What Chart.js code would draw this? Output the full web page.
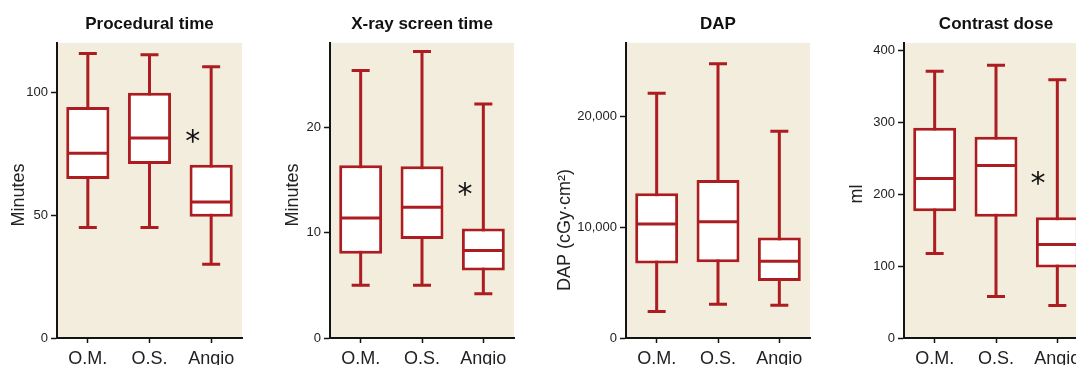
<!DOCTYPE html>
<html>
<head>
<meta charset="utf-8">
<script src="https://cdn.jsdelivr.net/npm/chart.js@4.4.1/dist/chart.umd.min.js"></script>
<style>
  @font-face {
    font-family: 'NarrowX';
    src: local('Liberation Sans Narrow'), local('LiberationSansNarrow-Regular'),
         local('DejaVu Sans Condensed'), local('DejaVuSansCondensed'),
         local('Arial Narrow'), local('ArialNarrow');
    font-weight: normal;
  }
  @font-face {
    font-family: 'NarrowX';
    src: local('Liberation Sans Narrow Bold'), local('LiberationSansNarrow-Bold'),
         local('DejaVu Sans Condensed Bold'), local('DejaVuSansCondensed-Bold'),
         local('Arial Narrow Bold'), local('ArialNarrow-Bold');
    font-weight: bold;
  }
  html, body { margin: 0; padding: 0; background: #ffffff; overflow: hidden; width: 1076px; height: 365px; }
  .panel { position: absolute; top: 0; height: 365px; }
</style>
</head>
<body>
<div class="panel" id="p0"><canvas id="c0"></canvas></div>
<div class="panel" id="p1"><canvas id="c1"></canvas></div>
<div class="panel" id="p2"><canvas id="c2"></canvas></div>
<div class="panel" id="p3"><canvas id="c3"></canvas></div>
<script>
// ---------------- DATA ----------------
const categories = ['O.M.', 'O.S.', 'Angio'];
const panelTitles = ['Procedural time', 'X-ray screen time', 'DAP', 'Contrast dose'];
const yAxisTitles = ['Minutes', 'Minutes', 'DAP (cGy\u00B7cm\u00B2)', 'ml'];

// Procedural time (minutes)
const procMin    = [45, 45, 30];
const procQ1     = [64.7, 70.8, 49.3];
const procMedian = [75.2, 81.4, 55.3];
const procQ3     = [94, 99.8, 70.5];
const procMax    = [115.7, 115.2, 110.3];

// X-ray screen time (minutes)
const xrayMin    = [5.0, 5.0, 4.2];
const xrayQ1     = [8.0, 9.4, 6.4];
const xrayMedian = [11.4, 12.4, 8.3];
const xrayQ3     = [16.4, 16.3, 10.4];
const xrayMax    = [25.4, 27.2, 22.2];

// DAP (cGy·cm²)
const dapMin     = [2390, 3050, 2960];
const dapQ1      = [6720, 6840, 5150];
const dapMedian  = [10270, 10480, 6930];
const dapQ3      = [13050, 14250, 9070];
const dapMax     = [22080, 24730, 18650];

// Contrast dose (ml)
const contMin    = [117.7, 57.7, 45.2];
const contQ1     = [176.7, 168.8, 98.2];
const contMedian = [222.3, 240.4, 130.3];
const contQ3     = [293, 280.3, 168.3];
const contMax    = [371.6, 379.9, 359.8];

// Axis ranges and tick labels
const yMaxValues = [120, 28, 26600, 411];
const yTicks0 = [0, 50, 100];
const yTicks1 = [0, 10, 20];
const yTicks2 = [0, 10000, 20000];
const yTicks3 = [0, 100, 200, 300, 400];

// Significance markers (between O.S. and Angio); null = none
const sigPos   = [1.7, 1.7, null, 1.685];
const sigValue = [82.8, 14.3, null, 226];

// ---------------- STYLE / LAYOUT ----------------
const RED = '#AC1C20';
const BG = '#F2EDDC';
const AXIS = '#141414';
const TXT = '#222222';
const SANS = "'Liberation Sans', Arial, sans-serif";
let NARROW = "NarrowX, 'Liberation Sans', sans-serif";
let tickSize = 15, titleSize = 19;

const layouts = [
  { left: 0,   width: 262, axisX: 57,  plotRight: 242,  yTitleX: 19,    yTitleY: 195 },
  { left: 270, width: 264, axisX: 330, plotRight: 514,  yTitleX: 293,   yTitleY: 195 },
  { left: 540, width: 290, axisX: 626, plotRight: 810,  yTitleX: 564.7, yTitleY: 230 },
  { left: 830, width: 278, axisX: 904, plotRight: 1088, yTitleX: 857,   yTitleY: 194 }
];

const panels = [
  { min: procMin, q1: procQ1, med: procMedian, q3: procQ3, max: procMax, ticks: yTicks0 },
  { min: xrayMin, q1: xrayQ1, med: xrayMedian, q3: xrayQ3, max: xrayMax, ticks: yTicks1 },
  { min: dapMin,  q1: dapQ1,  med: dapMedian,  q3: dapQ3,  max: dapMax,  ticks: yTicks2 },
  { min: contMin, q1: contQ1, med: contMedian, q3: contQ3, max: contMax, ticks: yTicks3 }
];

const CANVAS_H = 365;
const PLOT_TOP = 43;
const PLOT_BOTTOM = 338;

const bgPlugin = {
  id: 'plotBg',
  beforeDraw(chart) {
    const a = chart.chartArea, ctx = chart.ctx;
    ctx.save();
    ctx.fillStyle = BG;
    ctx.fillRect(a.left, a.top, a.right - a.left, a.bottom - a.top);
    ctx.restore();
  }
};

const boxPlugin = {
  id: 'boxParts',
  beforeDatasetsDraw(chart, args, opts) {
    const p = opts.panel;
    const xs = chart.scales.x, ys = chart.scales.y, ctx = chart.ctx;
    ctx.save();
    ctx.strokeStyle = RED;
    ctx.lineWidth = 3;
    ctx.lineCap = 'butt';
    for (let i = 0; i < categories.length; i++) {
      const x = xs.getPixelForValue(i);
      const yLo = ys.getPixelForValue(p.min[i]);
      const yHi = ys.getPixelForValue(p.max[i]);
      ctx.beginPath();
      ctx.moveTo(x, yLo); ctx.lineTo(x, yHi);
      ctx.moveTo(x - 9, yLo); ctx.lineTo(x + 9, yLo);
      ctx.moveTo(x - 9, yHi); ctx.lineTo(x + 9, yHi);
      ctx.stroke();
    }
    ctx.restore();
  },
  afterDatasetsDraw(chart, args, opts) {
    const p = opts.panel;
    const xs = chart.scales.x, ys = chart.scales.y, ctx = chart.ctx;
    const meta = chart.getDatasetMeta(0);
    ctx.save();
    ctx.strokeStyle = RED;
    ctx.lineWidth = 3;
    for (let i = 0; i < categories.length; i++) {
      const bar = meta.data[i];
      const x = bar.x, w = bar.width;
      const y = ys.getPixelForValue(p.med[i]);
      ctx.beginPath();
      ctx.moveTo(x - w / 2 + 1, y); ctx.lineTo(x + w / 2 - 1, y);
      ctx.stroke();
    }
    if (opts.sigPos !== null) {
      const i0 = Math.floor(opts.sigPos);
      const x1 = xs.getPixelForValue(i0);
      const x2 = xs.getPixelForValue(i0 + 1);
      const x = x1 + (opts.sigPos - i0) * (x2 - x1);
      const y = ys.getPixelForValue(opts.sigValue);
      ctx.fillStyle = '#111';
      ctx.font = "30px 'DejaVu Sans', sans-serif";
      ctx.textAlign = 'center';
      ctx.textBaseline = 'alphabetic';
      ctx.fillText('*', x, y + 0.56 * 30);
    }
    ctx.save();
    ctx.translate(opts.yTitleX, opts.yTitleY);
    ctx.rotate(-Math.PI / 2);
    ctx.fillStyle = TXT;
    ctx.font = '18px ' + SANS;
    ctx.textAlign = 'center';
    ctx.textBaseline = 'middle';
    ctx.fillText(opts.yTitle, 0, 0);
    ctx.restore();
    ctx.restore();
  }
};

function makeChart(k) {
  const L = layouts[k];
  const P = panels[k];
  const div = document.getElementById('p' + k);
  div.style.left = L.left + 'px';
  div.style.width = L.width + 'px';
  const canvas = document.getElementById('c' + k);
  canvas.width = L.width;
  canvas.height = CANVAS_H;
  canvas.style.width = L.width + 'px';
  canvas.style.height = CANVAS_H + 'px';

  const boxes = categories.map((c, i) => [P.q1[i], P.q3[i]]);
  const tLH = titleSize * 1.2;

  return new Chart(canvas, {
    type: 'bar',
    data: {
      labels: categories,
      datasets: [{
        data: boxes,
        backgroundColor: '#ffffff',
        borderColor: RED,
        borderWidth: 3,
        borderSkipped: false,
        categoryPercentage: 1.0,
        barPercentage: 0.70
      }]
    },
    plugins: [bgPlugin, boxPlugin],
    options: {
      responsive: false,
      animation: false,
      devicePixelRatio: 1,
      layout: { padding: { left: 0, top: 0, bottom: 0, right: L.width - (L.plotRight - L.left) } },
      plugins: {
        legend: { display: false },
        tooltip: { enabled: false },
        title: {
          display: true,
          text: panelTitles[k],
          fullSize: false,
          color: '#111',
          font: { family: NARROW, size: titleSize, weight: 'bold', lineHeight: 1.2 },
          padding: { top: 24 - tLH / 2, bottom: PLOT_TOP - (24 - tLH / 2) - tLH }
        },
        boxParts: {
          panel: P,
          sigPos: sigPos[k],
          sigValue: sigValue[k],
          yTitle: yAxisTitles[k],
          yTitleX: L.yTitleX - L.left,
          yTitleY: L.yTitleY
        }
      },
      scales: {
        x: {
          type: 'category',
          offset: true,
          grid: { display: true, drawOnChartArea: false, offset: false, tickLength: 5, color: AXIS, tickWidth: 1.5 },
          border: { display: true, color: AXIS, width: 2 },
          ticks: { color: TXT, font: { family: SANS, size: 18 }, padding: 5, maxRotation: 0 },
          afterFit(scale) { scale.height = CANVAS_H - PLOT_BOTTOM; }
        },
        y: {
          type: 'linear',
          min: 0,
          max: yMaxValues[k],
          grid: { display: true, drawOnChartArea: false, tickLength: 6, color: AXIS, tickWidth: 1.5 },
          border: { display: true, color: AXIS, width: 2 },
          ticks: { color: TXT, font: { family: NARROW, size: tickSize }, padding: 3 },
          afterBuildTicks(scale) { scale.ticks = P.ticks.map(v => ({ value: v })); },
          afterFit(scale) { scale.width = L.axisX - L.left; }
        }
      }
    }
  });
}

function isNarrowAvailable() {
  const c = document.createElement('canvas').getContext('2d');
  c.font = "bold 20px NarrowX, 'Liberation Sans'";
  const w1 = c.measureText('Procedural time').width;
  c.font = "bold 20px 'Liberation Sans'";
  const w2 = c.measureText('Procedural time').width;
  return w1 < w2 * 0.92;
}

function start() {
  if (!isNarrowAvailable()) {
    NARROW = "'Liberation Sans', Arial, sans-serif";
    tickSize = 13;
    titleSize = 17;
  }
  for (let k = 0; k < 4; k++) makeChart(k);
}

Promise.all([
  document.fonts.load("15px NarrowX"),
  document.fonts.load("bold 19px NarrowX")
]).then(start, start);
</script>
</body>
</html>
